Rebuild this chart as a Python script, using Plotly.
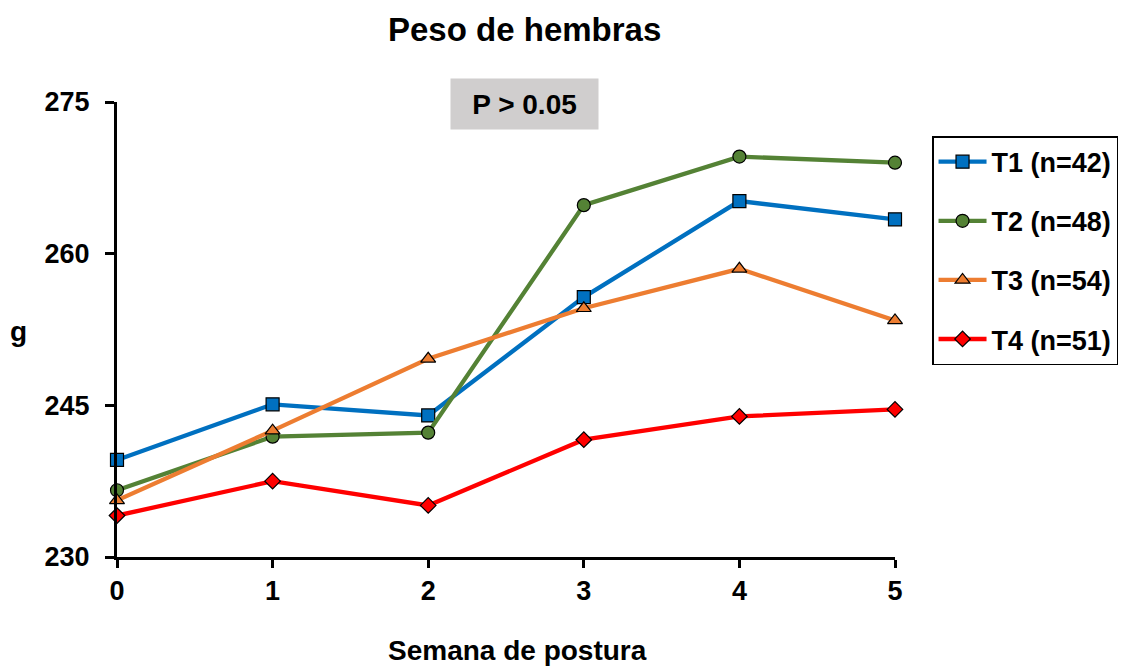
import plotly.graph_objects as go

weeks = [0, 1, 2, 3, 4, 5]
series_names = ["T1 (n=42)", "T2 (n=48)", "T3 (n=54)", "T4 (n=51)"]
t1 = [239.6, 245.1, 244.0, 255.7, 265.2, 263.4]
t2 = [236.6, 241.9, 242.3, 264.8, 269.6, 269.0]
t3 = [235.6, 242.5, 249.6, 254.6, 258.5, 253.4]
t4 = [234.1, 237.5, 235.1, 241.6, 243.9, 244.6]
y_ticks = [230, 245, 260, 275]

colors = ["#0070C0", "#548235", "#ED7D31", "#FF0000"]
symbols = ["square", "circle", "triangle-up", "diamond"]
sizes = [13, 13, 13, 12]

FONT = "Liberation Sans, Arial, sans-serif"
FS = 27

fig = go.Figure()
for i, (name, vals) in enumerate(zip(series_names, [t1, t2, t3, t4])):
    fig.add_trace(go.Scatter(
        x=weeks, y=vals, name=name, mode="lines+markers",
        legendgroup=f"g{i}",
        line=dict(color=colors[i], width=4.3),
        marker=dict(symbol=symbols[i], size=sizes[i], color=colors[i],
                    line=dict(color="black", width=1.2)),
        cliponaxis=False,
    ))

# page body has an 8px offset, so the figure is sized/placed accordingly
fig.update_layout(
    width=1118, height=658,
    margin=dict(l=109, r=231, t=94, b=109, autoexpand=False),
    plot_bgcolor="white", paper_bgcolor="white",
    font=dict(family=FONT, size=FS, color="black", weight="bold"),
    showlegend=True,
    legend=dict(
        x=1.0476, y=0.925, xanchor="left", yanchor="top",
        bordercolor="black", borderwidth=1.5,
        font=dict(family=FONT, size=FS, color="black", weight="bold"),
        tracegroupgap=21, itemwidth=48,
    ),
    xaxis=dict(
        range=[0, 5], tickvals=weeks, showgrid=False, zeroline=False,
        showline=True, linecolor="black", linewidth=3, automargin=False,
        ticks="outside", ticklen=8, tickwidth=3, tickcolor="black",
        tickfont=dict(size=FS, family=FONT, weight="bold"),
    ),
    yaxis=dict(
        range=[230, 275], tickvals=y_ticks, showgrid=False, zeroline=False,
        showline=True, linecolor="black", linewidth=3, automargin=False,
        ticks="outside", ticklen=9, tickwidth=3, tickcolor="black",
        ticklabelstandoff=10,
        tickfont=dict(size=FS, family=FONT, weight="bold"),
    ),
    annotations=[
        dict(text="Peso de hembras", xref="paper", yref="paper",
             x=(524 - 117) / 778, y=(557 - 30) / 455,
             xanchor="center", yanchor="middle", showarrow=False,
             font=dict(size=33, family=FONT, weight="bold")),
        dict(text="Semana de postura", xref="paper", yref="paper",
             x=(517 - 117) / 778, y=(557 - 650) / 455,
             xanchor="center", yanchor="middle", showarrow=False,
             font=dict(size=28, family=FONT, weight="bold")),
        dict(text="g", xref="paper", yref="paper",
             x=(18 - 117) / 778, y=(557 - 331) / 455,
             xanchor="center", yanchor="middle", showarrow=False,
             font=dict(size=28, family=FONT, weight="bold")),
        dict(text="P > 0.05", xref="paper", yref="paper",
             x=(524 - 117) / 778, y=(557 - 104) / 455,
             xanchor="center", yanchor="middle", showarrow=False,
             bgcolor="#D0CECE", width=145, height=48,
             font=dict(size=28, family=FONT, weight="bold")),
    ],
)

fig.write_html("out.html")
